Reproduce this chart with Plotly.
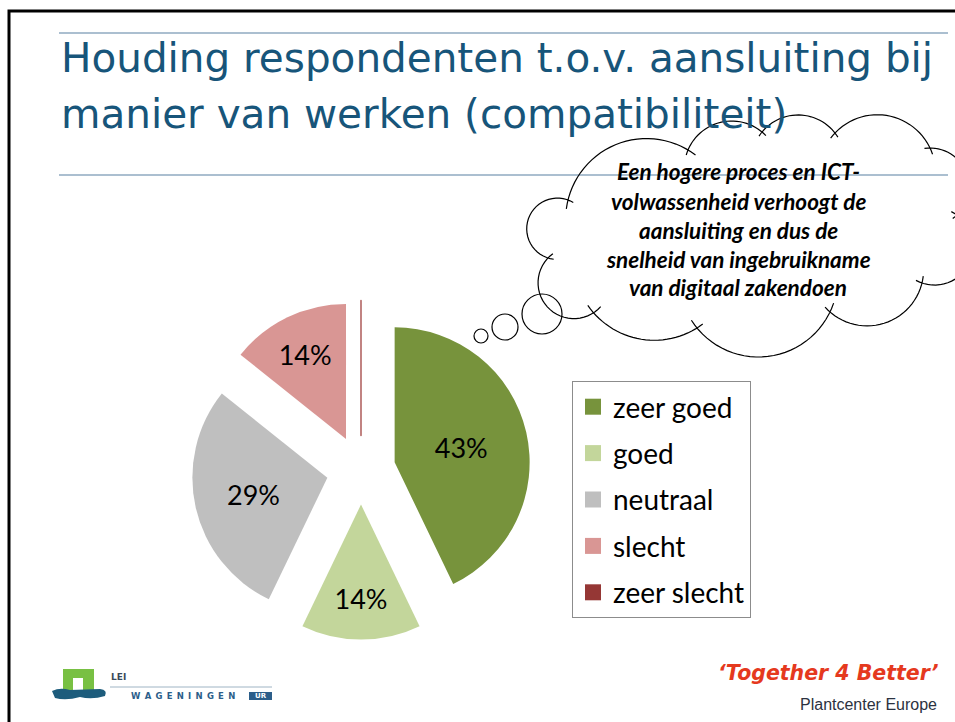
import math
import plotly.graph_objects as go

# ---------------- data ----------------
categories = ["zeer goed", "goed", "neutraal", "slecht", "zeer slecht"]
counts = [3, 1, 2, 1, 0]
colors = ["#77933C", "#C3D69B", "#BFBFBF", "#D99694", "#953735"]

title_lines = ["Houding respondenten t.o.v. aansluiting bij",
               "manier van werken (compatibiliteit)"]
cloud_lines = ["Een hogere proces en ICT-",
               "volwassenheid verhoogt de",
               "aansluiting en dus de",
               "snelheid van ingebruikname",
               "van digitaal zakendoen"]

W, H = 955, 722


def px(x):
    return x / W


def py(y):
    return 1 - y / H


fig = go.Figure()

texts = ["%{percent:.0%}" if v > 0 else "" for v in counts]
fig.add_trace(go.Pie(
    labels=categories, values=counts, sort=False, direction="clockwise",
    rotation=0, pull=[0.2556] * len(counts),
    marker=dict(colors=colors,
                line=dict(color=["#77933C", "#C3D69B", "#BFBFBF", "#D99694", "#A8504E"],
                          width=[0, 0, 0, 0, 1.4])),
    texttemplate=texts, textposition="inside", insidetextorientation="horizontal",
    textfont=dict(family="Lato", size=27, color="black"),
    domain=dict(x=[px(191.5), px(530.5)], y=[py(639.5), py(300.5)]),
    showlegend=False, hoverinfo="label+percent",
))

# legend entries (one per category)
for cat, col in zip(categories, colors):
    fig.add_trace(go.Scatter(
        x=[None], y=[None], mode="markers", name=cat, legendgroup=cat,
        marker=dict(symbol="square", size=16, color=col),
    ))

shapes = []
# slide border
shapes.append(dict(type="path", xref="paper", yref="paper",
                   path=f"M {px(9)},{py(722)} L {px(9)},{py(11)} L {px(956)},{py(11)}",
                   line=dict(color="black", width=3)))
# title rules
for yy in (33, 175):
    shapes.append(dict(type="line", xref="paper", yref="paper",
                       x0=px(59), x1=px(948), y0=py(yy), y1=py(yy),
                       line=dict(color="#8FAAC0", width=1.5)))


# cloud outline
def arc_points(p0, pm, p1, ext=0.06, n=30):
    ax, ay = p0
    bx, by = pm
    cx, cy = p1
    d = 2 * (ax * (by - cy) + bx * (cy - ay) + cx * (ay - by))
    ux = ((ax**2 + ay**2) * (by - cy) + (bx**2 + by**2) * (cy - ay) + (cx**2 + cy**2) * (ay - by)) / d
    uy = ((ax**2 + ay**2) * (cx - bx) + (bx**2 + by**2) * (ax - cx) + (cx**2 + cy**2) * (bx - ax)) / d
    r = math.hypot(ax - ux, ay - uy)
    a0 = math.atan2(ay - uy, ax - ux)
    am = math.atan2(by - uy, bx - ux)
    a1 = math.atan2(cy - uy, cx - ux)
    two = 2 * math.pi
    d1 = (a1 - a0) % two
    dm = (am - a0) % two
    sweep = d1 if dm < d1 else d1 - two
    start = a0 - ext * sweep
    total = sweep * (1 + 2 * ext)
    pts = []
    for i in range(n + 1):
        a = start + total * i / n
        pts.append((ux + r * math.cos(a), uy + r * math.sin(a)))
    return pts


bumps = [
    ((568, 200), (620, 143), (688, 150)),
    ((688, 150), (722, 122), (762, 132)),
    ((762, 132), (800, 115), (835, 133)),
    ((835, 133), (883, 115), (930, 148)),
    ((930, 148), (968, 178), (957, 215)),
    ((957, 215), (973, 250), (922, 283)),
    ((922, 283), (885, 323), (830, 312)),
    ((830, 312), (760, 357), (697, 328)),
    ((697, 328), (640, 339), (592, 311)),
    ((596, 311), (539, 291), (548, 258)),
    ((548, 258), (527, 233), (568, 200)),
]
segs = []
for b in bumps:
    pts = arc_points(*b)
    segs.append("M " + " L ".join(f"{px(x):.5f},{py(y):.5f}" for x, y in pts))
shapes.append(dict(type="path", xref="paper", yref="paper", path=" ".join(segs),
                   line=dict(color="black", width=1.2)))
# thought bubbles
for cx, cy, r in [(481, 336, 7), (505, 327, 13), (542, 314, 20)]:
    shapes.append(dict(type="circle", xref="paper", yref="paper",
                       x0=px(cx - r), x1=px(cx + r), y0=py(cy + r), y1=py(cy - r),
                       line=dict(color="black", width=1.2)))

# logo
shapes.append(dict(type="path", xref="paper", yref="paper",
                   path=(f"M {px(63)},{py(693)} L {px(63)},{py(669)} L {px(94)},{py(669)} "
                         f"L {px(94)},{py(693)} L {px(83)},{py(693)} L {px(83)},{py(678)} "
                         f"L {px(73)},{py(678)} L {px(73)},{py(693)} Z"),
                   fillcolor="#78C043", line=dict(width=0)))
shapes.append(dict(type="path", xref="paper", yref="paper",
                   path=(f"M {px(52)},{py(691)} Q {px(60)},{py(687)} {px(70)},{py(690)} "
                         f"L {px(100)},{py(689)} Q {px(108)},{py(690)} {px(105)},{py(696)} "
                         f"Q {px(92)},{py(700)} {px(80)},{py(697)} Q {px(66)},{py(701)} {px(55)},{py(698)} Z"),
                   fillcolor="#1D5C7C", line=dict(width=0)))
shapes.append(dict(type="line", xref="paper", yref="paper",
                   x0=px(110), x1=px(272), y0=py(687), y1=py(687),
                   line=dict(color="#9FB4C4", width=1)))
shapes.append(dict(type="rect", xref="paper", yref="paper",
                   x0=px(249), x1=px(272), y0=py(700), y1=py(692),
                   fillcolor="#2C5E8A", line=dict(width=0)))

annotations = []
title_y = [58, 114]
for line, yy in zip(title_lines, title_y):
    annotations.append(dict(text=line, xref="paper", yref="paper", x=px(59), y=py(yy),
                            xanchor="left", yanchor="middle", showarrow=False,
                            font=dict(family="DejaVu Sans", size=40.5, color="#17557A")))
cloud_y = [172, 201, 230, 259, 287]
for line, yy in zip(cloud_lines, cloud_y):
    annotations.append(dict(text=f"<b><i>{line}</i></b>", xref="paper", yref="paper",
                            x=px(738), y=py(yy), xanchor="center", yanchor="middle",
                            showarrow=False,
                            font=dict(family="Lato", size=22.5, color="black")))
annotations.append(dict(text="<b>LEI</b>", xref="paper", yref="paper", x=px(109), y=py(677),
                        xanchor="left", yanchor="middle", showarrow=False,
                        font=dict(family="DejaVu Sans", size=9, color="#3A4A5A")))
annotations.append(dict(text="<b>" + "\u2002".join("WAGENINGEN") + "</b>", xref="paper", yref="paper",
                        x=px(129), y=py(696), xanchor="left", yanchor="middle", showarrow=False,
                        font=dict(family="DejaVu Sans", size=8.5, color="#2C5E8A")))
annotations.append(dict(text="<b>UR</b>", xref="paper", yref="paper", x=px(260.5), y=py(696),
                        xanchor="center", yanchor="middle", showarrow=False,
                        font=dict(family="DejaVu Sans", size=7, color="white")))
annotations.append(dict(text="<b><i>\u2018Together 4 Better\u2019</i></b>", xref="paper", yref="paper",
                        x=px(941), y=py(673), xanchor="right", yanchor="middle", showarrow=False,
                        font=dict(family="DejaVu Sans", size=20.5, color="#E5391E")))
annotations.append(dict(text="Plantcenter Europe", xref="paper", yref="paper",
                        x=px(939), y=py(704), xanchor="right", yanchor="middle", showarrow=False,
                        font=dict(family="Liberation Sans", size=16, color="#2B3240")))

fig.update_layout(
    width=W, height=H, margin=dict(l=0, r=0, t=0, b=0),
    paper_bgcolor="white", plot_bgcolor="white",
    xaxis=dict(visible=False), yaxis=dict(visible=False),
    shapes=shapes, annotations=annotations,
    legend=dict(x=px(572), y=py(381), xanchor="left", yanchor="top",
                font=dict(family="Lato", size=28, color="black"),
                bordercolor="#8C8C8C", borderwidth=1, bgcolor="white",
                tracegroupgap=7, itemclick=False, itemdoubleclick=False),
)

fig.write_html("out.html", config={"displayModeBar": False},
               post_script="document.body.style.margin='0';")
